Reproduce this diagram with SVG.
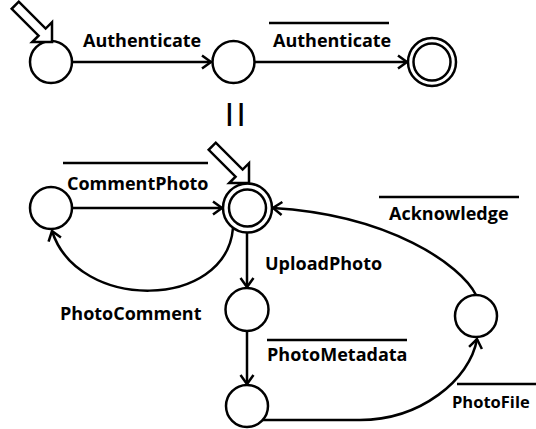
<svg xmlns="http://www.w3.org/2000/svg" width="536" height="429" viewBox="0 0 536 429">
<style>
.st{fill:#fff;stroke:#000;stroke-width:2.5}
.ln{fill:none;stroke:#000;stroke-width:2.5}
.ov{stroke:#000;stroke-width:2.5}
.init{fill:#fff;stroke:#000;stroke-width:2.5;stroke-linejoin:miter}
text{font-family:"Open Sans","Liberation Sans",sans-serif;font-weight:bold;font-size:18px;fill:#000}
.eq{font-family:"Liberation Sans",sans-serif;font-weight:bold;font-size:24px;letter-spacing:5px}
</style>
<defs>
<marker id="ah" markerUnits="userSpaceOnUse" markerWidth="20" markerHeight="20" viewBox="-12 -10 14 20" refX="0" refY="0" orient="auto">
<path d="M-9,-6.5 L0,0 L-9,6.5" fill="none" stroke="#000" stroke-width="2.5"/>
</marker>
<polygon id="initArrow" points="0,0 -14,-14 -14,-5 -52,-5 -52,5 -14,5 -14,14"/>
</defs>
<g id="connectors">
<path class="ln" d="M72,62 L211,62" marker-end="url(#ah)"/>
<path class="ln" d="M255,62 L407,62" marker-end="url(#ah)"/>
<path class="ln" d="M72,208 L222,208" marker-end="url(#ah)"/>
<path class="ln" d="M233,228 C226,310 78,312 52,231" marker-end="url(#ah)"/>
<path class="ln" d="M247,233 L247,287" marker-end="url(#ah)"/>
<path class="ln" d="M247,331 L247,384" marker-end="url(#ah)"/>
<path class="ln" d="M263,420 L360,420 C420,420 470,380 477,339" marker-end="url(#ah)"/>
<path class="ln" d="M476,295 C461,265 390,215 273,208" marker-end="url(#ah)"/>
</g>
<g id="labels">
<text x="83" y="47">Authenticate</text>
<line class="ov" x1="269" y1="23" x2="389" y2="23"/>
<text x="273" y="47">Authenticate</text>
<text class="eq" x="226" y="121">||</text>
<line class="ov" x1="63" y1="163" x2="208" y2="163"/>
<text x="67" y="190">CommentPhoto</text>
<text x="60" y="320">PhotoComment</text>
<text x="265" y="270">UploadPhoto</text>
<line class="ov" x1="267" y1="340" x2="407" y2="340"/>
<text x="267" y="361">PhotoMetadata</text>
<line class="ov" x1="379" y1="197" x2="519" y2="197"/>
<text x="389" y="220">Acknowledge</text>
<line class="ov" x1="457" y1="384" x2="536" y2="384"/>
<text x="452" y="408" style="font-size:16.5px">PhotoFile</text>
</g>
<g id="s1">
<circle class="st" cx="51" cy="62" r="21"/>
<use href="#initArrow" class="init" transform="translate(52,42) rotate(45)"/>
</g>
<g id="s2"><circle class="st" cx="233.5" cy="62" r="21"/></g>
<g id="s3">
<circle class="st" cx="432" cy="62" r="24"/>
<circle class="st" cx="432" cy="62" r="18.5"/>
</g>
<g id="t1">
<circle class="st" cx="51" cy="208" r="21"/>
</g>
<g id="t0">
<circle class="st" cx="247.5" cy="208" r="24.5"/>
<circle class="st" cx="247.5" cy="208" r="18.5"/>
<use href="#initArrow" class="init" transform="translate(249,183) rotate(45)"/>
</g>
<g id="t2"><circle class="st" cx="247" cy="309.5" r="21.5"/></g>
<g id="t3"><circle class="st" cx="247" cy="406" r="21"/></g>
<g id="t4"><circle class="st" cx="476" cy="316" r="21"/></g>
</svg>
